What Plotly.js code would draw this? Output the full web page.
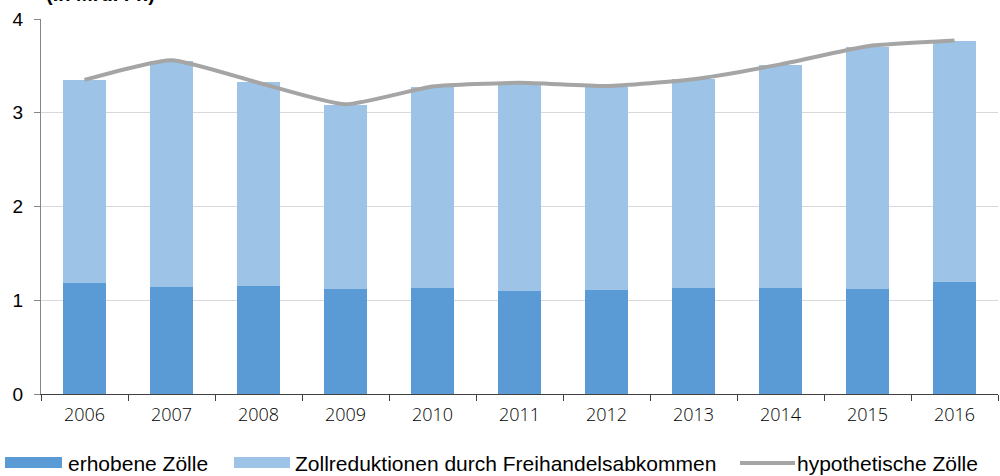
<!DOCTYPE html>
<html>
<head>
<meta charset="utf-8">
<script src="https://cdn.plot.ly/plotly-3.0.1.min.js"></script>
<style>html,body{margin:0;padding:0;background:#fff;}#chart{width:1000px;height:476px;}</style>
</head>
<body>
<div id="chart"></div>
<script>
const years = ["2006","2007","2008","2009","2010","2011","2012","2013","2014","2015","2016"];
const erhobeneZoelle = [1.18, 1.145, 1.155, 1.115, 1.135, 1.10, 1.11, 1.135, 1.135, 1.125, 1.19];
const zollreduktionen = [2.165, 2.41, 2.175, 1.97, 2.145, 2.205, 2.17, 2.22, 2.375, 2.58, 2.58];
const hypothetischeZoelle = [3.35, 3.56, 3.32, 3.09, 3.28, 3.32, 3.285, 3.357, 3.516, 3.71, 3.77];
const legendLabels = ["erhobene Zölle", "Zollreduktionen durch Freihandelsabkommen", "hypothetische Zölle"];
const unitLabel = "(in Mrd. Fr.)";

const cDark = "#5B9BD5", cLight = "#9DC3E6", cLine = "#A5A5A5";

const traces = [
  {type:"bar", x:years, y:erhobeneZoelle, name:legendLabels[0], marker:{color:cDark}, width:0.5, hoverinfo:"skip"},
  {type:"bar", x:years, y:zollreduktionen, name:legendLabels[1], marker:{color:cLight}, width:0.5, hoverinfo:"skip"},
  {type:"scatter", mode:"lines", x:years, y:hypothetischeZoelle, name:legendLabels[2],
   line:{color:cLine, width:4, shape:"spline", smoothing:0.5}, hoverinfo:"skip"}
];

const W = 957, H = 375, L = 41, T = 19;
const px = v => (v - L) / W;
const py = v => 1 - (v - T) / H;
const legFont = {family:"Liberation Sans, Arial, sans-serif", size:21, color:"#000"};

const layout = {
  width:1000, height:476,
  margin:{l:L, r:2, t:T, b:82},
  paper_bgcolor:"#fff", plot_bgcolor:"#fff",
  barmode:"stack", showlegend:false,
  xaxis:{type:"category", showline:true, linecolor:"#404040", linewidth:1,
         ticks:"outside", tickson:"boundaries", ticklen:6, tickcolor:"#404040",
         showgrid:false, tickfont:{family:"Open Sans, sans-serif", size:18, color:"#000", weight:300},
         ticklabelstandoff:4},
  yaxis:{range:[0,4], dtick:1, showline:true, linecolor:"#868686", linewidth:1,
         ticks:"outside", ticklen:6, tickcolor:"#868686",
         gridcolor:"#D9D9D9", gridwidth:1, zeroline:false,
         tickfont:{family:"Liberation Sans, Arial, sans-serif", size:19, color:"#000"},
         ticklabelstandoff:7},
  shapes:[
    {type:"rect", xref:"paper", yref:"paper", x0:px(5), x1:px(62), y0:py(468), y1:py(457), fillcolor:cDark, line:{width:0}},
    {type:"rect", xref:"paper", yref:"paper", x0:px(234), x1:px(290), y0:py(468), y1:py(457), fillcolor:cLight, line:{width:0}},
    {type:"line", xref:"paper", yref:"paper", x0:px(740), x1:px(795), y0:py(463), y1:py(463), line:{color:cLine, width:4}}
  ],
  annotations:[
    {xref:"paper", yref:"paper", x:px(66), y:py(463), xanchor:"left", yanchor:"middle", text:legendLabels[0], showarrow:false, font:legFont},
    {xref:"paper", yref:"paper", x:px(293), y:py(463), xanchor:"left", yanchor:"middle", text:legendLabels[1], showarrow:false, font:legFont},
    {xref:"paper", yref:"paper", x:px(795), y:py(463), xanchor:"left", yanchor:"middle", text:legendLabels[2], showarrow:false, font:legFont},
    {xref:"paper", yref:"paper", x:px(44), y:py(7), xanchor:"left", yanchor:"bottom", text:"<b>"+unitLabel+"</b>", showarrow:false,
     font:{family:"Liberation Sans, Arial, sans-serif", size:20, color:"#000"}}
  ]
};

Plotly.newPlot("chart", traces, layout, {staticPlot:true, displayModeBar:false});
</script>
</body>
</html>
